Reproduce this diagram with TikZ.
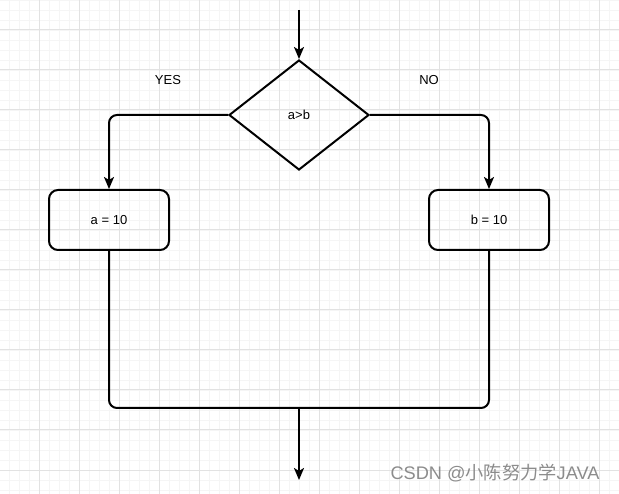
\documentclass[tikz,border=0pt]{standalone}
\usepackage{fontspec}
\setmainfont{Liberation Sans}
\newfontfamily\cjk{Noto Sans CJK SC}
\usepackage{tikz}
\usetikzlibrary{shapes.geometric, arrows.meta, positioning}
\definecolor{gridmajor}{HTML}{E2E2E2}
\definecolor{gridminor}{HTML}{F5F5F5}
\definecolor{wmgray}{HTML}{8C8C8C}

\begin{document}
\begin{tikzpicture}[x=1pt, y=-1pt,
  font=\fontsize{13}{15}\selectfont,
  line/.style={black, line width=2pt, rounded corners=8pt},
  flow/.style={line, -{Stealth[length=12pt, width=10pt, inset=3pt]}},
  decision/.style={diamond, draw, line width=2pt, aspect=1.27, minimum width=140pt, minimum height=110pt, inner sep=0pt},
  stepbox/.style={rectangle, draw, line width=2pt, rounded corners=9pt, minimum width=120pt, minimum height=60pt}]
  \useasboundingbox (0,0) rectangle (619,494);
  % Grid
  \fill[white] (0,0) rectangle (619,494);
  \foreach \x in {9,19,...,619} \draw[gridminor, line width=0.8pt] (\x,0) -- (\x,494);
  \foreach \y in {0,10,...,494} \draw[gridminor, line width=0.8pt] (0,\y) -- (619,\y);
  \foreach \x in {39,79,...,619} \draw[gridmajor, line width=1pt] (\x,0) -- (\x,494);
  \foreach \y in {30,70,...,494} \draw[gridmajor, line width=1pt] (0,\y) -- (619,\y);
  % Nodes
  \node[decision] (test) at (299,115) {a>b};
  \node[stepbox] (seta) at (109,220) {a = 10};
  \node[stepbox] (setb) at (489,220) {b = 10};
  \coordinate (entry) at (299,10);
  \coordinate (joinl) at (109,408);
  \coordinate (joinr) at (489,408);
  \coordinate (merge) at (299,408);
  \coordinate (exit) at (299,480);
  % Connectors
  \draw[flow] (entry) -- (test.north);
  \draw[flow] (test.west) -| (seta.north);
  \draw[flow] (test.east) -| (setb.north);
  \draw[line] (seta.south) -- (joinl) -- (joinr) -- (setb.south);
  \draw[flow] (merge) -- (exit);
  % Labels
  \node (yes) at (168,80) {YES};
  \node (no) at (429,80) {NO};
  \node[wmgray, font=\fontsize{18.2}{20}\selectfont, anchor=east] (wm) at (603,473) {CSDN @{\cjk 小陈努力学}JAVA};
\end{tikzpicture}
\end{document}
